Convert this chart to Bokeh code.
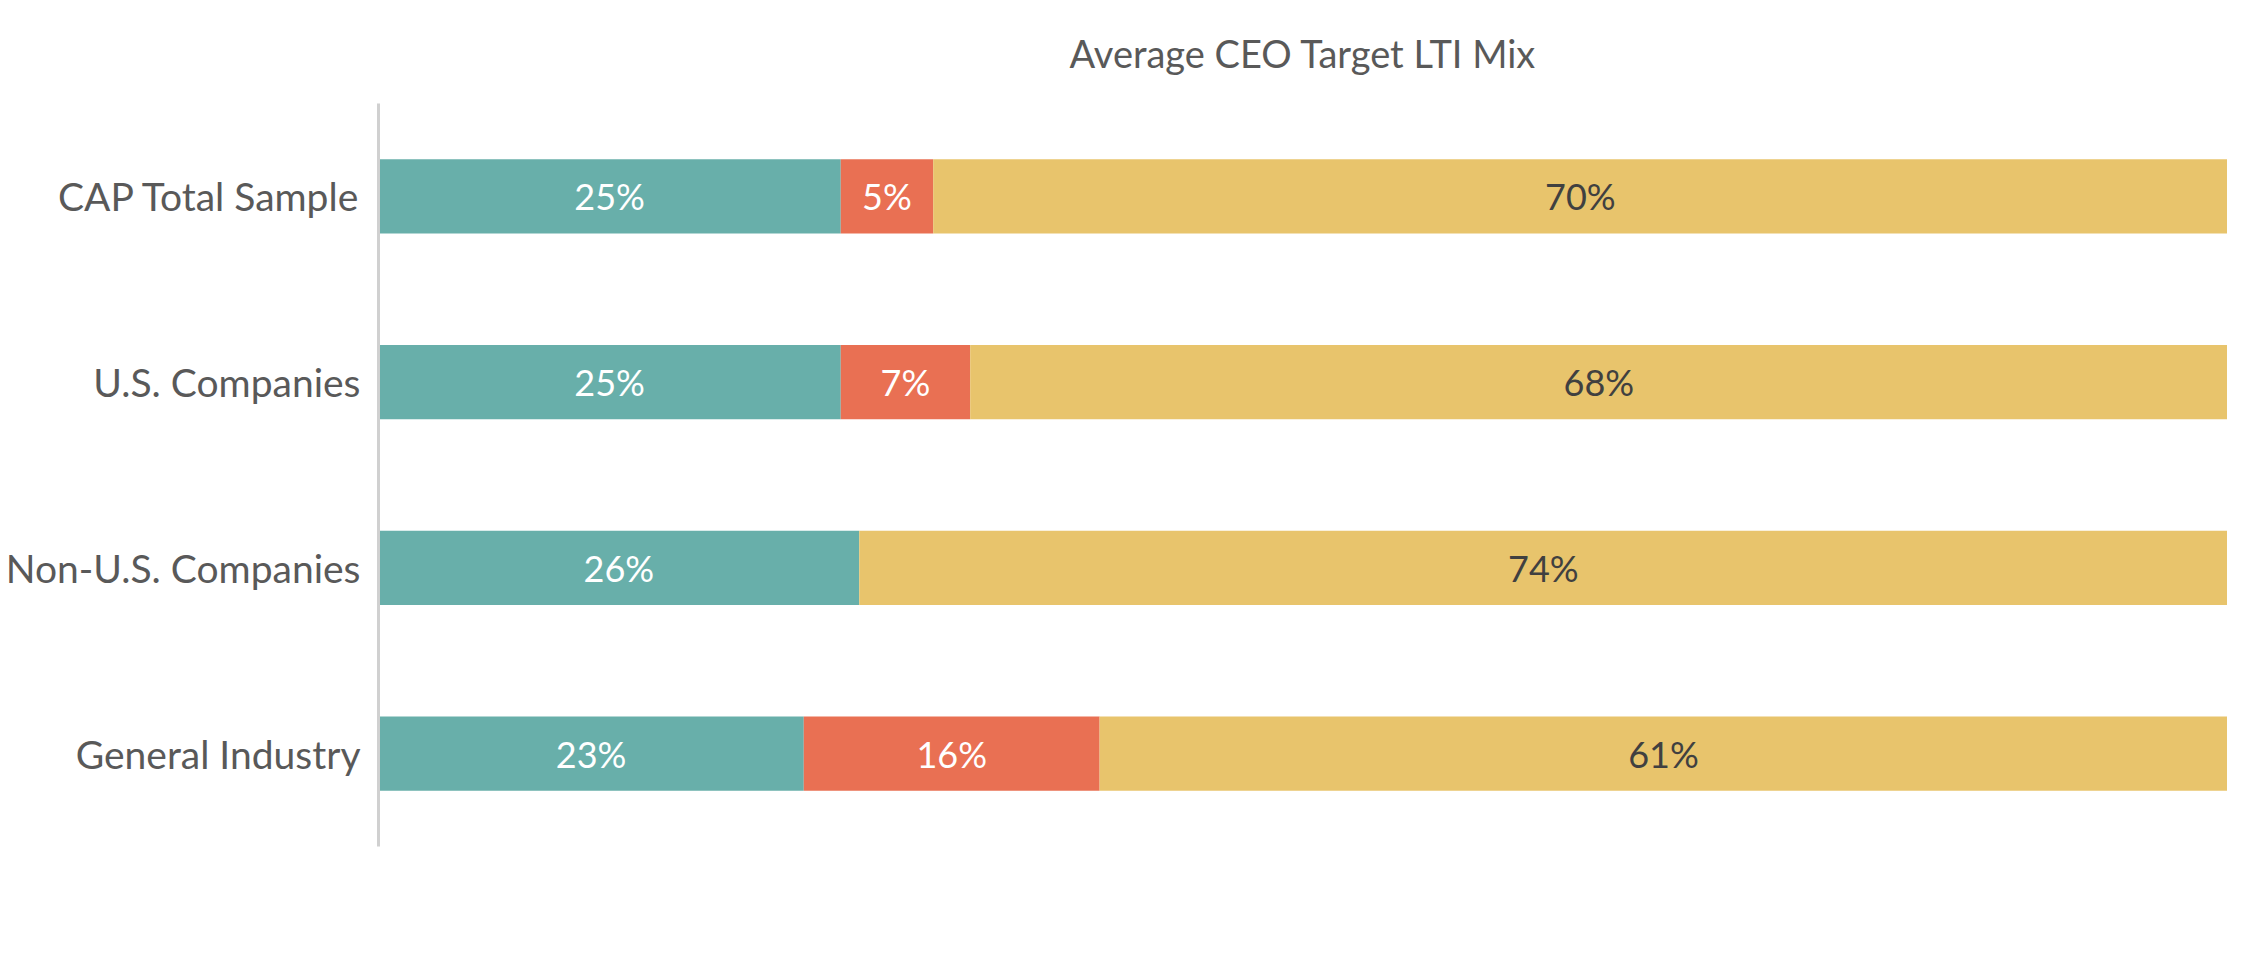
from bokeh.plotting import figure
from bokeh.models import ColumnDataSource, Legend, LegendItem, LabelSet
from bokeh.core.properties import value
from bokeh.embed import file_html
from bokeh.resources import INLINE

categories = ["CAP Total Sample", "U.S. Companies", "Non-U.S. Companies", "General Industry"]
series = ["Stock Options", "Time-based RS", "Perf-based LTI"]
stock_options = [25, 25, 26, 23]
time_rs = [5, 7, 0, 16]
perf_lti = [70, 68, 74, 61]
colors = ["#68AFAA", "#E97053", "#E8C46C"]
text_colors = ["#FFFFFF", "#FFFFFF", "#404040"]
FONT = "Lato"

p = figure(width=2227, height=942, y_range=list(reversed(categories)), x_range=(0, 100),
           output_backend="svg", toolbar_location=None,
           min_border_left=378, min_border_right=0, min_border_top=102, min_border_bottom=96)
p.title.text = "Average CEO Target LTI Mix"
p.title.align = "center"
p.title.text_font = FONT
p.title.text_font_size = "38px"
p.title.text_font_style = "normal"
p.title.text_color = "#595959"
p.title.offset = -189
p.title.standoff = 55
p.outline_line_color = None
p.xgrid.visible = False
p.ygrid.visible = False
p.xaxis.visible = False
p.y_range.range_padding = 0
p.yaxis.axis_line_color = "#D0D0D0"
p.yaxis.axis_line_width = 3
p.yaxis.major_tick_line_color = None
p.yaxis.minor_tick_line_color = None
p.yaxis.major_label_text_font = FONT
p.yaxis.major_label_text_font_size = "39px"
p.yaxis.major_label_text_color = "#595959"
p.yaxis.major_label_standoff = 12

vals = [stock_options, time_rs, perf_lti]
left = [0] * len(categories)
items = []
for name, v, c, tc in zip(series, vals, colors, text_colors):
    right = [l + x for l, x in zip(left, v)]
    src = ColumnDataSource(dict(y=categories, left=left, right=right,
                                mid=[(l + r) / 2 for l, r in zip(left, right)],
                                lab=[f"{x}%" if x > 0 else "" for x in v]))
    r = p.hbar(y="y", left="left", right="right", height=0.4, source=src,
               fill_color=c, line_color=None)
    p.add_layout(LabelSet(x="mid", y="y", text="lab", source=src, text_align="center",
                          text_baseline="middle", text_font=value(FONT),
                          text_font_size="36px", text_color=tc))
    items.append(LegendItem(label=name, renderers=[r]))
    left = right

legend = Legend(items=items, orientation="horizontal",
                label_text_font=FONT, label_text_font_size="38px", label_text_color="#595959",
                glyph_width=26, glyph_height=36, spacing=28, border_line_color=None,
                background_fill_alpha=0, padding=0, margin=0, label_standoff=10)
p.add_layout(legend, "center")
legend.location = (255, -56)

open("out.html", "w").write(file_html(p, INLINE))
